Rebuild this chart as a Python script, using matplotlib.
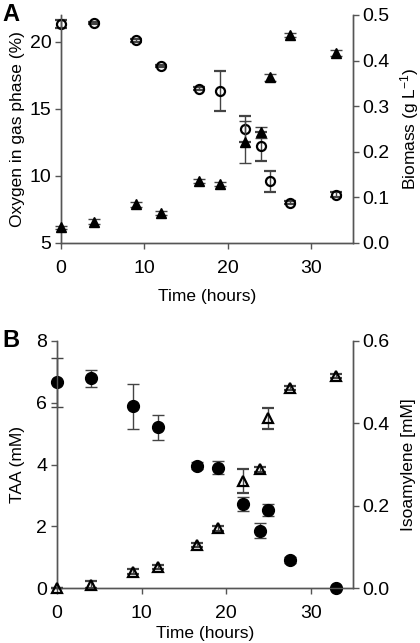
import matplotlib
matplotlib.use("Agg")
import matplotlib.pyplot as plt

plt.rcParams['font.family'] = ['Liberation Sans', 'DejaVu Sans']
plt.rcParams['mathtext.fontset'] = 'custom'
plt.rcParams['mathtext.rm'] = 'Liberation Sans'
plt.rcParams['mathtext.it'] = 'Liberation Sans:italic'
plt.rcParams['font.size'] = 12.5

# ----------------------------------
# Data
# ----------------------------------
time = [0, 4, 9, 12, 16.5, 19, 22, 24, 25, 27.5, 33]

# panel A
oxygen = [21.3, 21.4, 20.1, 18.2, 16.5, 16.35, 13.5, 12.2, 9.6, 8.0, 8.6]
oxygen_err = [0.3, 0.1, 0.1, 0.1, 0.1, 1.5, 1.0, 1.1, 0.78, 0.1, 0.2]
biomass = [0.034, 0.047, 0.085, 0.066, 0.136, 0.129, 0.222, 0.243, 0.363, 0.456, 0.417]
biomass_err = [0.004, 0.005, 0.005, 0.005, 0.005, 0.004, 0.046, 0.012, 0.008, 0.004, 0.006]

# panel B
taa = [6.66, 6.79, 5.88, 5.2, 3.96, 3.9, 2.73, 1.86, 2.52, 0.91, 0.0]
taa_err = [0.8, 0.28, 0.72, 0.41, 0.12, 0.2, 0.22, 0.23, 0.2, 0.1, 0.0]
isoamylene = [0.0, 0.008, 0.04, 0.051, 0.104, 0.145, 0.26, 0.288, 0.412, 0.485, 0.515]
isoamylene_err = [0.0, 0.008, 0.005, 0.006, 0.005, 0.006, 0.03, 0.006, 0.026, 0.005, 0.004]

spine_col = '#555555'
err_col = '#444444'


def style_axes(ax, ax2):
    for a in (ax, ax2):
        a.spines['top'].set_visible(False)
        for s in ('left', 'right', 'bottom'):
            a.spines[s].set_color(spine_col)
            a.spines[s].set_linewidth(1.0)
        a.tick_params(direction='out', length=4, width=1, color=spine_col,
                      labelsize=14, pad=3)
    ax.tick_params(axis='x', pad=8)
    ax.set_xlim(0, 35)
    ax.set_xticks([0, 10, 20, 30])


fig = plt.figure(figsize=(4.2, 6.43), dpi=100)

# ==================================
# Panel A
# ==================================
axA = fig.add_axes([0.1452, 0.6221, 0.6953, 0.3546])
axA2 = axA.twinx()
style_axes(axA, axA2)

axA.errorbar(time, oxygen, yerr=oxygen_err, fmt='o', ms=6.5, mfc='none',
             mec='black', mew=1.6, ecolor=err_col, elinewidth=1,
             capsize=4, capthick=1, clip_on=False, zorder=3)
axA2.errorbar(time, biomass, yerr=biomass_err, fmt='^', ms=7.5, mfc='black',
              mec='black', ecolor=err_col, elinewidth=1,
              capsize=4, capthick=1, clip_on=False, zorder=3)

axA.set_ylim(5, 22)
axA.set_yticks([5, 10, 15, 20])
axA2.set_ylim(0, 0.5)
axA2.set_yticks([0.0, 0.1, 0.2, 0.3, 0.4, 0.5])
axA2.set_yticklabels(['0.0', '0.1', '0.2', '0.3', '0.4', '0.5'])
axA.set_xlabel('Time (hours)', labelpad=9)
axA.set_ylabel('Oxygen in gas phase (%)', labelpad=3)
axA2.set_ylabel('Biomass (g L$^{-1}$)', labelpad=6)

# ==================================
# Panel B
# ==================================
axB = fig.add_axes([0.1357, 0.0855, 0.7048, 0.3842])
axB2 = axB.twinx()
style_axes(axB, axB2)

axB.errorbar(time, taa, yerr=taa_err, fmt='o', ms=8.5, mfc='black',
             mec='black', ecolor=err_col, elinewidth=1,
             capsize=4, capthick=1, clip_on=False, zorder=3)
axB2.errorbar(time, isoamylene, yerr=isoamylene_err, fmt='^', ms=7.5,
              mfc='none', mec='black', mew=1.6, ecolor=err_col,
              elinewidth=1, capsize=4, capthick=1, clip_on=False, zorder=3)

axB.set_ylim(0, 8)
axB.set_yticks([0, 2, 4, 6, 8])
axB2.set_ylim(0, 0.6)
axB2.set_yticks([0.0, 0.2, 0.4, 0.6])
axB2.set_yticklabels(['0.0', '0.2', '0.4', '0.6'])
axB.set_xlabel('Time (hours)', labelpad=3)
axB.set_ylabel('TAA (mM)', labelpad=8)
axB2.set_ylabel('Isoamylene [mM]', labelpad=8)

fig.text(0.005, 0.995, 'A', fontsize=17, fontweight='bold', va='top')
fig.text(0.005, 0.488, 'B', fontsize=17, fontweight='bold', va='top')

fig.savefig('out.png', dpi=100)
